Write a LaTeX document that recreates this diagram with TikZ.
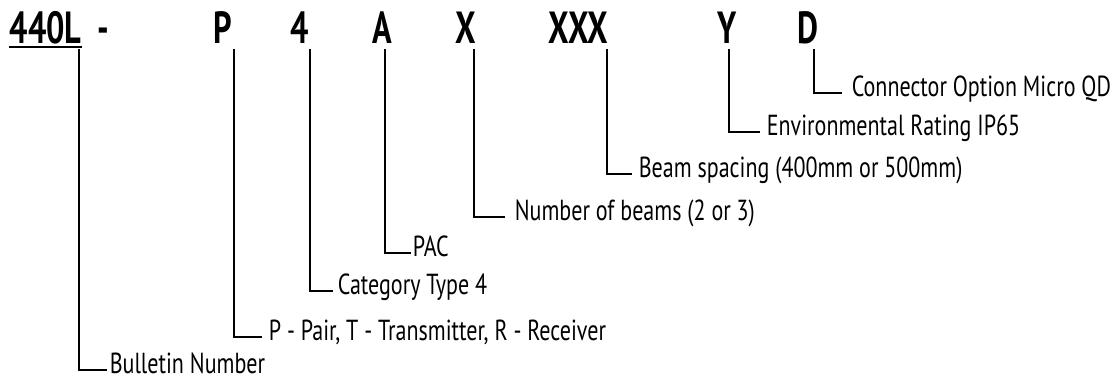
\documentclass[tikz,border=0pt]{standalone}
\usepackage{fontspec}
\setmainfont{PT Sans}[FakeStretch=0.76]
\newfontfamily\codefont{PT Sans}[FakeStretch=0.72]
\usepackage{tikz}
\usetikzlibrary{positioning}

\begin{document}
\begin{tikzpicture}[x=1pt, y=-1pt, line width=1.6pt,
  code/.style={anchor=base west, inner sep=0pt, font=\codefont\bfseries\fontsize{45}{45}\selectfont},
  lbl/.style={anchor=west, inner xsep=6pt, inner ysep=0pt, text height=0.8em, text depth=0.1em, font=\fontsize{29}{32}\selectfont}]
  \useasboundingbox (0,0) rectangle (1115,384);
  % catalogue number
  \node[code] (n440L) at (9,43) {440L};
  \node[code] (dash) at (97,43) {-};
  \node[code] (nP) at (213,43) {P};
  \node[code] (n4) at (290,43) {4};
  \node[code] (nA) at (372,43) {A};
  \node[code] (nX) at (455,43) {X};
  \node[code] (nXXX) at (548,43) {XXX};
  \node[code] (nY) at (717,43) {Y};
  \node[code] (nD) at (797,43) {D};
  \draw[line width=2.2pt] ([yshift=-4pt]n440L.base west) -- ([yshift=-4pt]n440L.base east);
  % tops of the leader lines
  \coordinate (t440L) at (79,49);
  \coordinate (tP) at (234,49);
  \coordinate (t4) at (310,49);
  \coordinate (tA) at (385,49);
  \coordinate (tX) at (474,49);
  \coordinate (tXXX) at (607,49);
  \coordinate (tY) at (729,49);
  \coordinate (tD) at (814,49);
  % meanings
  \node[lbl, inner xsep=2pt] (bulletin) at (107,370) {Bulletin Number};
  \node[lbl] (pair) at (262,337) {P - Pair, T - Transmitter, R - Receiver};
  \node[lbl, inner xsep=4pt] (category) at (333,291) {Category Type 4};
  \node[lbl, inner xsep=1pt] (pac) at (411,253) {PAC};
  \node[lbl, inner xsep=9pt] (beams) at (505,217) {Number of beams (2 or 3)};
  \node[lbl] (spacing) at (632,174) {Beam spacing (400mm or 500mm)};
  \node[lbl] (rating) at (760,132) {Environmental Rating IP65};
  \node[lbl, inner xsep=9pt] (connector) at (842,93) {Connector Option Micro QD};
  \draw (t440L) |- (bulletin.west);
  \draw (tP) |- (pair.west);
  \draw (t4) |- (category.west);
  \draw (tA) |- (pac.west);
  \draw (tX) |- (beams.west);
  \draw (tXXX) |- (spacing.west);
  \draw (tY) |- (rating.west);
  \draw (tD) |- (connector.west);
\end{tikzpicture}
\end{document}
